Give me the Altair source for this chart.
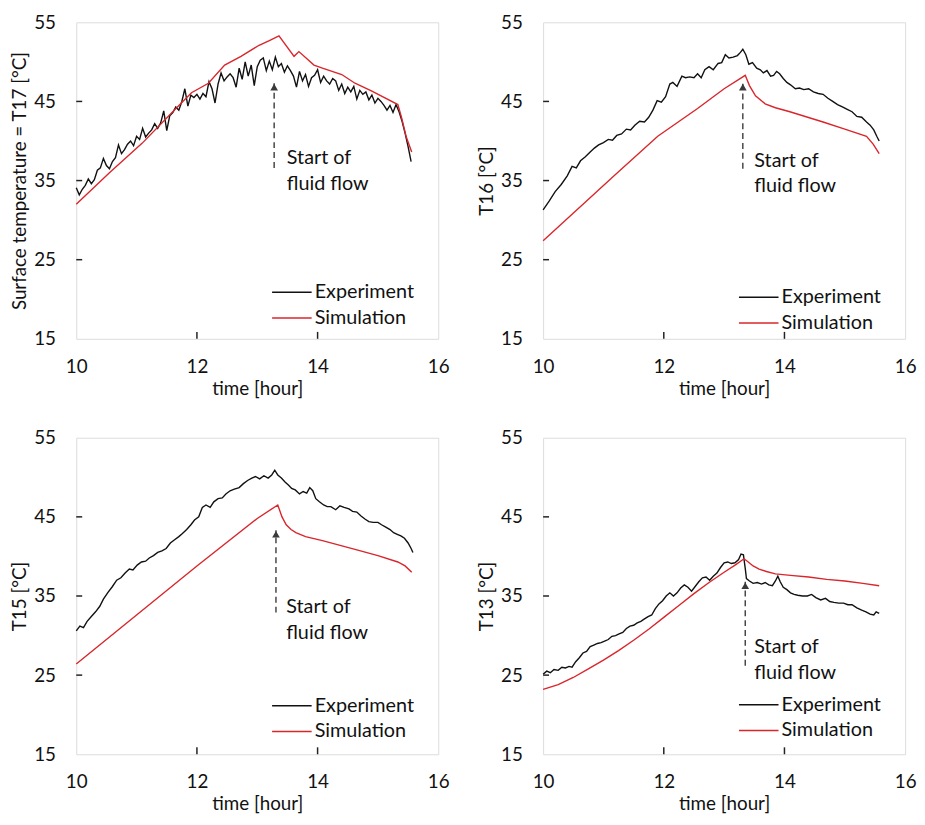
import altair as alt
import pandas as pd

# ---------------- data ----------------
# Panel 1: T17 (surface temperature)
p1_exp_t = [10.00, 10.05, 10.10, 10.15, 10.20, 10.25, 10.30, 10.35, 10.40, 10.45, 10.50, 10.55, 10.60, 10.65,
            10.70, 10.75, 10.80, 10.85, 10.90, 10.95, 11.00, 11.05, 11.10, 11.15, 11.20, 11.25, 11.30, 11.35,
            11.40, 11.45, 11.50, 11.55, 11.60, 11.65, 11.70, 11.75, 11.80, 11.85, 11.90, 11.95, 12.00, 12.05,
            12.10, 12.15, 12.20, 12.25, 12.30, 12.35, 12.40, 12.45, 12.50, 12.55, 12.60, 12.65, 12.70, 12.75,
            12.80, 12.85, 12.90, 12.95, 13.00, 13.05, 13.10, 13.15, 13.20, 13.25, 13.30, 13.35, 13.40, 13.45,
            13.50, 13.55, 13.60, 13.65, 13.70, 13.75, 13.80, 13.85, 13.90, 13.95, 14.00, 14.05, 14.10, 14.15,
            14.20, 14.25, 14.30, 14.35, 14.40, 14.45, 14.50, 14.55, 14.60, 14.65, 14.70, 14.75, 14.80, 14.85,
            14.90, 14.95, 15.00, 15.05, 15.10, 15.15, 15.20, 15.25, 15.30, 15.35, 15.40, 15.45, 15.50, 15.55]
p1_exp_v = [34.1, 33.2, 33.9, 34.4, 35.2, 34.6, 35.1, 36.3, 36.6, 37.8, 36.9, 36.5, 37.4, 37.9,
            39.5, 38.4, 38.9, 39.6, 40.0, 39.4, 40.6, 40.2, 41.6, 40.5, 41.0, 41.4, 42.2, 41.6,
            42.3, 43.8, 41.3, 43.2, 43.6, 44.3, 43.9, 45.0, 46.6, 44.4, 45.8, 45.5, 45.9, 45.3,
            46.0, 45.6, 47.5, 46.6, 44.8, 47.2, 48.6, 47.6, 48.1, 48.5, 48.0, 46.8, 49.2, 47.8,
            50.0, 48.2, 49.6, 47.0, 49.4, 50.2, 50.5, 48.9, 50.1, 49.0, 50.6, 49.4, 49.8, 48.7,
            49.5, 48.9, 48.2, 46.8, 48.8, 47.6, 48.4, 46.9, 48.0, 48.3, 49.0, 47.4, 48.2, 47.6,
            47.2, 47.9, 47.6, 46.4, 47.2, 46.0, 46.8, 46.2, 46.9, 45.3, 46.4, 45.9, 46.2, 45.2,
            45.8, 44.8, 45.4, 45.0, 44.5, 43.9, 44.5, 43.6, 44.6, 43.7, 42.5, 41.0, 39.3, 37.4]
p1_sim_t = [10.00, 10.55, 11.09, 11.64, 11.91, 12.19, 12.46, 12.73, 13.03, 13.20, 13.36, 13.61, 13.69,
            13.94, 14.08, 14.40, 14.62, 14.90, 15.33, 15.39, 15.47, 15.56]
p1_sim_v = [32.0, 36.0, 39.7, 44.0, 46.1, 47.3, 49.6, 50.7, 52.1, 52.7, 53.3, 50.7, 51.3,
            49.6, 49.2, 48.4, 47.3, 46.3, 44.6, 43.0, 40.5, 38.6]

# Panel 2: T16
p2_exp_t = [10.00, 10.10, 10.20, 10.30, 10.40, 10.48, 10.55, 10.62, 10.70, 10.78, 10.85, 10.92, 11.00, 11.08,
            11.15, 11.22, 11.30, 11.38, 11.45, 11.52, 11.60, 11.68, 11.75, 11.82, 11.89, 11.96, 12.03, 12.10,
            12.15, 12.22, 12.30, 12.36, 12.43, 12.50, 12.56, 12.62, 12.68, 12.75, 12.82, 12.90, 12.96, 13.02,
            13.08, 13.15, 13.22, 13.27, 13.31, 13.36, 13.41, 13.47, 13.54, 13.60, 13.65, 13.71, 13.77, 13.82,
            13.87, 13.92, 13.98, 14.04, 14.10, 14.18, 14.25, 14.32, 14.40, 14.48, 14.56, 14.64, 14.72, 14.80,
            14.88, 14.96, 15.04, 15.12, 15.20, 15.28, 15.36, 15.42, 15.48, 15.53, 15.57]
p2_exp_v = [31.3, 32.4, 33.6, 34.5, 35.6, 36.8, 36.6, 37.5, 38.0, 38.6, 39.1, 39.5, 39.8, 40.2,
            40.1, 40.7, 40.9, 41.5, 41.4, 42.0, 42.5, 42.4, 43.0, 43.9, 45.1, 44.9, 45.6, 47.2,
            47.4, 46.9, 48.2, 48.0, 48.1, 48.0, 48.5, 48.0, 49.0, 49.4, 49.0, 49.8, 49.9, 50.9,
            50.5, 50.6, 50.8, 51.2, 51.6, 50.9, 49.7, 49.9, 49.2, 49.0, 48.6, 48.9, 48.2, 48.3,
            48.8, 48.5, 47.9, 47.4, 47.1, 46.6, 46.7, 46.5, 46.6, 46.2, 46.0, 45.9, 45.4, 45.0,
            44.6, 44.3, 44.0, 43.7, 43.1, 43.0, 42.4, 42.0, 41.4, 40.6, 40.0]
p2_sim_t = [10.00, 10.53, 11.19, 11.90, 12.56, 13.00, 13.35, 13.42, 13.52, 13.68, 13.85, 14.09, 14.64,
            15.00, 15.36, 15.47, 15.57]
p2_sim_v = [27.4, 31.1, 35.7, 40.6, 44.1, 46.6, 48.3, 47.0, 45.7, 44.7, 44.2, 43.7, 42.4,
            41.5, 40.6, 39.6, 38.4]

# Panel 3: T15
p3_exp_t = [10.00, 10.06, 10.12, 10.18, 10.25, 10.32, 10.39, 10.45, 10.52, 10.60, 10.67, 10.74, 10.81, 10.88,
            10.94, 11.01, 11.08, 11.15, 11.21, 11.28, 11.35, 11.42, 11.49, 11.56, 11.63, 11.70, 11.76, 11.83,
            11.90, 11.96, 12.03, 12.09, 12.15, 12.22, 12.28, 12.35, 12.42, 12.48, 12.55, 12.62, 12.70, 12.77,
            12.84, 12.91, 12.97, 13.04, 13.11, 13.18, 13.24, 13.29, 13.34, 13.40, 13.46, 13.52, 13.57, 13.63,
            13.70, 13.76, 13.82, 13.87, 13.92, 13.97, 14.03, 14.10, 14.16, 14.22, 14.30, 14.37, 14.44, 14.52,
            14.58, 14.65, 14.72, 14.79, 14.85, 14.92, 15.00, 15.06, 15.13, 15.20, 15.26, 15.32, 15.38, 15.44,
            15.50, 15.55, 15.58]
p3_exp_v = [30.6, 31.2, 31.0, 31.8, 32.4, 33.0, 33.7, 34.6, 35.4, 36.2, 37.0, 37.3, 37.9, 38.4,
            38.3, 38.9, 39.3, 39.4, 39.8, 40.1, 40.5, 40.7, 41.0, 41.7, 42.1, 42.5, 42.9, 43.4,
            44.0, 44.6, 45.0, 46.2, 46.5, 46.2, 46.9, 47.3, 47.4, 47.9, 48.3, 48.5, 48.7, 49.2,
            49.6, 49.9, 50.1, 49.8, 50.2, 49.9, 50.3, 50.9, 50.3, 49.9, 49.4, 49.0, 48.6, 48.4,
            47.9, 48.2, 48.0, 48.7, 48.3, 47.3, 46.9, 46.5, 46.3, 46.3, 45.9, 46.4, 46.2, 46.0,
            45.7, 45.6, 45.1, 44.7, 44.4, 44.3, 44.3, 44.0, 43.7, 43.4, 43.0, 42.8, 42.6, 42.3,
            41.7, 41.0, 40.5]
p3_sim_t = [10.00, 11.00, 12.00, 13.00, 13.34, 13.41, 13.48, 13.56, 13.64, 13.80, 14.08, 14.62, 15.00,
            15.33, 15.45, 15.56]
p3_sim_v = [26.4, 32.6, 38.8, 44.8, 46.5, 45.0, 44.0, 43.4, 43.0, 42.5, 42.0, 40.9, 40.1,
            39.3, 38.8, 38.0]

# Panel 4: T13
p4_exp_t = [10.00, 10.06, 10.12, 10.18, 10.25, 10.31, 10.37, 10.43, 10.48, 10.54, 10.60, 10.66, 10.72, 10.78,
            10.84, 10.90, 10.96, 11.02, 11.08, 11.14, 11.20, 11.26, 11.32, 11.38, 11.44, 11.50, 11.56, 11.62,
            11.68, 11.74, 11.80, 11.86, 11.92, 11.98, 12.04, 12.10, 12.16, 12.22, 12.28, 12.34, 12.40, 12.46,
            12.52, 12.58, 12.64, 12.70, 12.76, 12.82, 12.88, 12.94, 13.00, 13.06, 13.12, 13.18, 13.24, 13.28,
            13.32, 13.35, 13.37, 13.42, 13.48, 13.55, 13.62, 13.68, 13.74, 13.80, 13.85, 13.89, 13.93, 13.98,
            14.04, 14.10, 14.16, 14.22, 14.30, 14.38, 14.45, 14.52, 14.60, 14.68, 14.75, 14.82, 14.90, 14.98,
            15.05, 15.12, 15.20, 15.28, 15.35, 15.42, 15.48, 15.52, 15.57]
p4_exp_v = [25.1, 25.5, 25.3, 25.7, 25.6, 26.0, 25.9, 26.1, 26.0, 26.7, 27.2, 27.8, 28.0, 28.6,
            28.8, 29.0, 29.1, 29.3, 29.5, 29.9, 30.0, 30.2, 30.4, 30.9, 31.2, 31.3, 31.6, 31.8,
            32.1, 32.4, 32.6, 33.4, 34.0, 34.4, 35.0, 35.4, 35.0, 35.4, 36.0, 36.4, 36.1, 35.6,
            36.2, 36.8, 37.3, 37.4, 37.0, 37.5, 37.9, 38.6, 39.2, 39.3, 39.1, 39.2, 39.6, 40.3,
            40.2, 38.5, 37.2, 36.9, 36.6, 36.7, 36.5, 36.7, 36.4, 36.3, 36.9, 37.5, 36.8, 36.1,
            35.8, 35.4, 35.2, 35.1, 35.0, 35.0, 35.2, 34.8, 34.5, 34.7, 34.3, 34.2, 34.1, 34.1,
            33.9, 33.9, 33.5, 33.2, 33.0, 32.7, 32.6, 33.0, 32.8]
p4_sim_t = [10.00, 10.25, 10.50, 10.75, 11.00, 11.25, 11.50, 11.75, 12.00, 12.25, 12.50, 12.75, 13.00,
            13.20, 13.33, 13.40, 13.48, 13.58, 13.70, 13.85, 14.10, 14.40, 14.70, 15.00, 15.30, 15.57]
p4_sim_v = [23.2, 23.8, 24.7, 25.8, 26.9, 28.1, 29.4, 30.8, 32.3, 33.8, 35.3, 36.7, 38.0,
            39.0, 39.7, 39.3, 38.8, 38.4, 38.1, 37.8, 37.6, 37.4, 37.1, 36.9, 36.6, 36.3]

# annotations ("Start of fluid flow")
y_titles = ["Surface temperature = T17 [°C]", "T16 [°C]", "T15 [°C]", "T13 [°C]"]
arrow_t = [13.28, 13.31, 13.31, 13.35]
arrow_top = [47.3, 47.3, 43.3, 36.8]
arrow_bottom = [36.6, 36.5, 32.9, 26.2]
note_t = [13.49, 13.50, 13.48, 13.50]
note_v1 = [37.9, 37.5, 33.6, 28.5]
note_v2 = [34.5, 34.3, 30.3, 25.3]
note_lines = ["Start of", "fluid flow"]

x_ticks = [10, 12, 14, 16]
y_ticks = [15, 25, 35, 45, 55]
series_names = ["Experiment", "Simulation"]
series_colors = ["#111111", "#d9262b"]

FONT = "Lato"
W, H = 366, 320
legend_gap = [47, 42, 49, 50]   # px from plot bottom to the first legend row

panels_data = [
    (p1_exp_t, p1_exp_v, p1_sim_t, p1_sim_v),
    (p2_exp_t, p2_exp_v, p2_sim_t, p2_sim_v),
    (p3_exp_t, p3_exp_v, p3_sim_t, p3_sim_v),
    (p4_exp_t, p4_exp_v, p4_sim_t, p4_sim_v),
]

XS = alt.Scale(domain=[10, 16], nice=False, zero=False)
YS = alt.Scale(domain=[15, 55], nice=False, zero=False)


def x_axis():
    return alt.Axis(title="time [hour]", values=x_ticks, labelFlush=False, grid=False,
                    ticks=False, tickSize=0, domain=False, labelPadding=19, titlePadding=3,
                    labelFontSize=19, titleFontSize=19, labelFont=FONT, titleFont=FONT,
                    labelColor="#111", titleColor="#111", titleFontWeight="normal")


def y_axis(i):
    return alt.Axis(title=y_titles[i], values=y_ticks, grid=False, ticks=False, tickSize=0,
                    domain=False, labelPadding=21, minExtent=40, maxExtent=40,
                    titlePadding=7, labelFontSize=19, titleFontSize=19, labelFont=FONT,
                    titleFont=FONT, labelColor="#111", titleColor="#111",
                    titleFontWeight="normal")


def make_panel(i):
    et, ev, st, sv = panels_data[i]
    df = pd.concat([
        pd.DataFrame({"t": et, "v": ev, "series": series_names[0], "order": range(len(et))}),
        pd.DataFrame({"t": st, "v": sv, "series": series_names[1], "order": range(len(st))}),
    ])
    X = alt.X("t:Q", scale=XS, axis=x_axis(), title="time [hour]")
    Y = alt.Y("v:Q", scale=YS, axis=y_axis(i), title=y_titles[i])

    lines = alt.Chart(df).mark_line(strokeWidth=1.4).encode(
        x=X, y=Y,
        color=alt.Color("series:N",
                        scale=alt.Scale(domain=series_names, range=series_colors),
                        legend=alt.Legend(title=None, orient="none", legendX=207,
                                          legendY=H - legend_gap[i] - 11,
                                          symbolType="M-2,0H2", symbolSize=400,
                                          symbolStrokeWidth=1.5, labelOffset=12, rowPadding=5,
                                          labelFontSize=20, labelFont=FONT, labelColor="#111",
                                          padding=0)),
        order="order:Q",
        detail="series:N",
    )

    xt = alt.Chart(pd.DataFrame({"t": x_ticks[1:-1]})).mark_rule(color="#222", strokeWidth=1.5).encode(
        x=X, y=alt.value(H), y2=alt.value(H - 7))
    yt = alt.Chart(pd.DataFrame({"v": y_ticks[1:-1]})).mark_rule(color="#222", strokeWidth=1.5).encode(
        y=Y, x=alt.value(0), x2=alt.value(6))

    arr = pd.DataFrame({"t": [arrow_t[i]], "v": [arrow_bottom[i]], "v2": [arrow_top[i]]})
    shaft = alt.Chart(arr).mark_rule(color="#3a3a3a", strokeWidth=1.4, strokeDash=[6, 4]).encode(
        x=X, y=Y, y2="v2:Q")
    head = alt.Chart(arr).mark_point(shape="triangle-up", filled=True, size=60, color="#3a3a3a",
                                     opacity=1, yOffset=4).encode(
        x=X, y=alt.Y("v2:Q", scale=YS, axis=y_axis(i), title=y_titles[i]))

    notes = pd.DataFrame({"t": [note_t[i], note_t[i]], "v": [note_v1[i], note_v2[i]],
                          "txt": note_lines})
    text = alt.Chart(notes).mark_text(align="left", baseline="middle", fontSize=20, font=FONT,
                                      color="#111").encode(x=X, y=Y, text="txt:N")

    return alt.layer(lines, xt, yt, shaft, head, text).properties(width=W, height=H)


row1 = alt.hconcat(make_panel(0), make_panel(1), spacing=27).resolve_scale(
    color="independent").resolve_legend(color="independent")
row2 = alt.hconcat(make_panel(2), make_panel(3), spacing=27).resolve_scale(
    color="independent").resolve_legend(color="independent")
chart = alt.vconcat(row1, row2, spacing=29).resolve_scale(color="independent").resolve_legend(
    color="independent").properties(padding={"left": 2, "top": 0, "right": 0, "bottom": 0}).configure_view(
    stroke="#222", strokeWidth=1.5).configure(background="white")

chart.save("out.html", embed_options={"renderer": "svg", "actions": False})
